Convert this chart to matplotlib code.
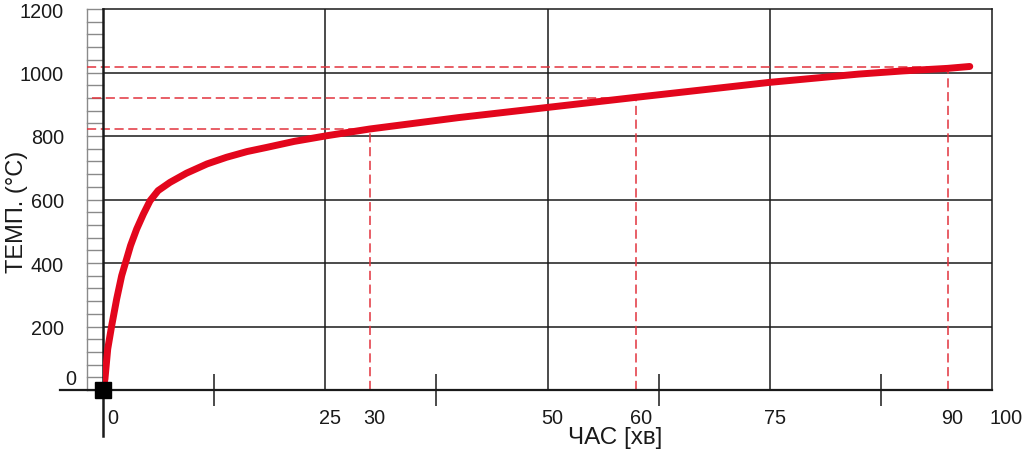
import matplotlib
matplotlib.use("Agg")
import matplotlib.pyplot as plt
from matplotlib.transforms import ScaledTranslation
from matplotlib.ticker import FixedLocator

plt.rcParams['font.family'] = ['Liberation Sans', 'DejaVu Sans']

# ---- data ----
time_min = [0, 0.22, 0.53, 0.98, 1.54, 2.1, 2.66, 3.1, 3.79, 4.54, 5.29, 6.2,
            7.54, 9.4, 11.7, 13.9, 16.2, 18.4, 21.5, 25.2, 30, 40, 50, 60, 75,
            85, 90, 95, 97.5]
temp_c = [0, 35, 129, 203, 287, 360, 413, 455, 507, 554, 596, 628,
          654, 683, 712, 733, 751, 764, 783, 801, 822, 858, 890, 922, 969,
          995, 1005, 1013, 1019]

mark_t = [30, 60, 95]            # positions of the dashed reference markers
mark_temp = [822, 920, 1017]
mark_h_start = [-1.8, -1.2, -1.8]

xtick_vals = [0, 25, 30, 50, 60, 75, 95, 100]
xtick_labels = ["0", "25", "30", "50", "60", "75", "90", "100"]
xminor_vals = [12.5, 37.5, 62.5, 87.5]
ytick_vals = [0, 200, 400, 600, 800, 1000, 1200]
ytick_labels = ["0", "200", "400", "600", "800", "1000", "1200"]
grid_x = [25, 50, 75]
grid_y = [200, 400, 600, 800, 1000]
ladder_y = list(range(0, 1201, 40))

RED = '#e3061c'
DASH_RED = '#e2333d'
INK = '#1a1a1a'

fig = plt.figure(figsize=(10.24, 4.56), dpi=100)
ax = fig.add_axes([103/1024, 65/456, 889/1024, 381/456])
ax.set_xlim(0, 100)
ax.set_ylim(0, 1200)

# grid
for gx in grid_x:
    ax.axvline(gx, color=INK, lw=1.1, zorder=1)
for gy in grid_y:
    ax.axhline(gy, color=INK, lw=1.1, zorder=1)

# ladder scale left of the axis
ax.plot([-1.8, -1.8], [0, 1200], color='#8a8a8a', lw=1.0, clip_on=False, zorder=1)
for ly in ladder_y:
    ax.plot([-1.8, 0], [ly, ly], color='#8a8a8a', lw=1.0, clip_on=False, zorder=1)

# extended axis lines
ax.plot([-4.8, 100], [0, 0], color=INK, lw=1.6, clip_on=False, zorder=3)
ax.plot([0, 0], [-145, 1200], color=INK, lw=1.8, clip_on=False, zorder=3)

# dashed reference lines
for t, tc, hs in zip(mark_t, mark_temp, mark_h_start):
    ax.plot([hs, t], [tc, tc], color=DASH_RED, lw=1.1, dashes=(6, 3),
            clip_on=False, zorder=2)
    ax.plot([t, t], [0, tc], color=DASH_RED, lw=1.1, dashes=(6, 3), zorder=2)

# main curve
ax.plot(time_min, temp_c, color=RED, lw=5.0, solid_capstyle='round',
        solid_joinstyle='round', zorder=4)
ax.plot([0], [0], marker='s', color='black', markersize=12, clip_on=False, zorder=5)

# spines
for s in ['top', 'right']:
    ax.spines[s].set_color(INK)
    ax.spines[s].set_linewidth(1.1)
ax.spines['left'].set_visible(False)
ax.spines['bottom'].set_visible(False)

# ticks
ax.set_xticks(xtick_vals)
ax.set_xticklabels(xtick_labels)
ax.xaxis.set_minor_locator(FixedLocator(xminor_vals))
ax.tick_params(axis='x', which='major', length=0, pad=13, labelsize=14.3, colors=INK)
ax.tick_params(axis='x', which='minor', length=23, width=1.1, direction='inout', color=INK)
ax.set_yticks(ytick_vals)
ax.set_yticklabels(ytick_labels)
ax.tick_params(axis='y', length=0, pad=28, labelsize=14.3, colors=INK)

x_shift = {"0": 10, "100": 14}
for lab in ax.get_xticklabels():
    dx = x_shift.get(lab.get_text(), 5)
    lab.set_transform(lab.get_transform() + ScaledTranslation(dx/100, 0, fig.dpi_scale_trans))
for lab in ax.get_yticklabels():
    if lab.get_text() == "0":
        lab.set_transform(lab.get_transform() + ScaledTranslation(12/100, 13/100, fig.dpi_scale_trans))

ax.set_ylabel("ТЕМП. (°C)", fontsize=17, color=INK, va='center', ha='center')
ax.yaxis.set_label_coords(-0.0967, 0.47)
ax.set_xlabel("ЧАС [хв]", fontsize=17.5, color=INK, va='center')
ax.xaxis.set_label_coords(0.576, -0.123)

fig.savefig("out.png", dpi=100, facecolor='white')
